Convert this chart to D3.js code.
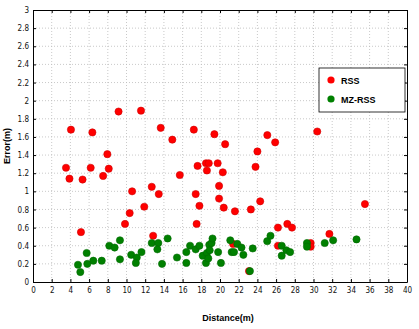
<!DOCTYPE html>
<html><head><meta charset="utf-8">
<script src="https://cdn.jsdelivr.net/npm/d3@7"></script>
<style>
body{margin:0;background:#fff;}
svg{display:block;}
.tick text{font-family:"Liberation Sans Narrow","Arial Narrow","DejaVu Sans Condensed",sans-serif;font-size:8px;fill:#111;}
</style></head>
<body><svg id="c" width="419" height="329"></svg>
<script>
const xTicks = d3.range(0, 41, 2);
const yTicks = [0,0.2,0.4,0.6,0.8,1,1.2,1.4,1.6,1.8,2,2.2,2.4,2.6,2.8,3];
const seriesNames = ["RSS","MZ-RSS"];
const rssDist = [3.53,3.9,4.06,5.13,5.3,6.17,6.35,7.5,7.95,8.1,9.15,9.84,10.34,10.6,11.55,11.9,12.7,12.85,13.45,13.66,14.9,15.7,17.2,17.4,17.5,17.6,17.8,18.5,18.6,18.8,19.4,19.75,19.9,19.9,20.3,20.4,20.55,21.4,21.6,23.1,23.3,23.8,24.0,24.3,25.06,25.9,26.2,26.2,27.2,27.7,29.7,29.7,30.4,31.7,35.5];
const rssErr  = [1.26,1.14,1.68,0.55,1.13,1.26,1.65,1.17,1.41,1.25,1.88,0.64,0.76,1.0,1.89,0.83,1.05,0.51,0.97,1.70,1.57,1.18,1.68,0.97,0.64,1.28,0.84,1.31,1.23,1.31,1.63,1.31,1.06,0.92,1.21,0.82,1.52,0.42,0.78,0.12,0.80,1.27,1.44,0.89,1.62,1.54,0.60,0.40,0.64,0.60,0.43,0.39,1.66,0.53,0.86];
const mzDist = [4.81,5.06,5.74,5.81,6.45,7.35,8.16,8.73,9.3,9.3,10.5,11.1,11.0,11.6,12.7,13.4,13.3,13.8,14.4,15.4,16.4,16.4,16.8,17.4,17.8,18.15,18.5,18.6,18.75,18.85,18.9,19.1,19.2,19.8,20.1,21.1,21.25,21.5,21.85,22.3,22.5,23.2,23.5,25.05,25.4,26.6,26.6,27.1,27.5,29.3,29.3,31.2,32.1,34.6];
const mzErr  = [0.19,0.11,0.32,0.20,0.235,0.235,0.40,0.38,0.46,0.25,0.30,0.27,0.21,0.33,0.43,0.43,0.36,0.20,0.48,0.27,0.21,0.33,0.40,0.36,0.40,0.29,0.21,0.32,0.26,0.41,0.35,0.43,0.48,0.33,0.21,0.46,0.33,0.33,0.42,0.38,0.30,0.12,0.37,0.45,0.51,0.40,0.29,0.35,0.33,0.43,0.39,0.43,0.46,0.47];

const svg = d3.select("#c");
const L=33, R=407, T=10, B=282;
const x = d3.scaleLinear().domain([0,40]).range([L,R]);
const y = d3.scaleLinear().domain([0,3]).range([B,T]);

// grid
const g = svg.append("g");
g.selectAll(".gx").data(xTicks.slice(1,-1)).join("line")
  .attr("x1",d=>x(d)).attr("x2",d=>x(d)).attr("y1",T).attr("y2",B)
  .attr("stroke","#bbb").attr("stroke-width",0.8).attr("stroke-dasharray","1,2");
g.selectAll(".gy").data(yTicks.slice(1,-1)).join("line")
  .attr("y1",d=>y(d)).attr("y2",d=>y(d)).attr("x1",L).attr("x2",R)
  .attr("stroke","#bbb").attr("stroke-width",0.8).attr("stroke-dasharray","1,2");

// axes
const xa = svg.append("g").attr("transform",`translate(0,${B})`)
  .call(d3.axisBottom(x).tickValues(xTicks).tickFormat(d3.format("d")).tickSizeInner(-3).tickSizeOuter(0).tickPadding(5));
const ya = svg.append("g").attr("transform",`translate(${L},0)`)
  .call(d3.axisLeft(y).tickValues(yTicks).tickFormat(d=>String(+d.toFixed(1))).tickSizeInner(-3).tickSizeOuter(0).tickPadding(4));
const xt = svg.append("g").attr("transform",`translate(0,${T})`)
  .call(d3.axisTop(x).tickValues(xTicks).tickFormat("").tickSizeInner(-3).tickSizeOuter(0));
const yr = svg.append("g").attr("transform",`translate(${R},0)`)
  .call(d3.axisRight(y).tickValues(yTicks).tickFormat("").tickSizeInner(-3).tickSizeOuter(0));
[xa,ya,xt,yr].forEach(a=>{a.selectAll("path").attr("stroke","#000").attr("stroke-width",1);a.selectAll("line").attr("stroke","#000");});

// points
const rss = rssDist.map((d,i)=>({d, e:rssErr[i]}));
const mz = mzDist.map((d,i)=>({d, e:mzErr[i]}));
svg.append("g").selectAll("circle").data(rss).join("circle")
  .attr("cx",p=>x(p.d)).attr("cy",p=>y(p.e)).attr("r",3.6)
  .attr("fill","#ff0000").attr("stroke","#d00000").attr("stroke-width",0.6);
svg.append("g").selectAll("circle").data(mz).join("circle")
  .attr("cx",p=>x(p.d)).attr("cy",p=>y(p.e)).attr("r",3.6)
  .attr("fill","#008000").attr("stroke","#006a00").attr("stroke-width",0.6);

// labels
svg.append("text").attr("x",228).attr("y",321).attr("text-anchor","middle")
  .attr("font-family","Liberation Sans, Arial, sans-serif").attr("font-weight","bold").attr("font-size",9)
  .text("Distance(m)");
svg.append("text").attr("transform","translate(10,146) rotate(-90)").attr("text-anchor","middle")
  .attr("font-family","Liberation Sans, Arial, sans-serif").attr("font-weight","bold").attr("font-size",9)
  .text("Error(m)");

// legend
const lg = svg.append("g");
lg.append("rect").attr("x",319).attr("y",68).attr("width",86).attr("height",44)
  .attr("fill","#fff").attr("stroke","#000").attr("stroke-width",0.8);
const colors=["#ff0000","#008000"];
seriesNames.forEach((n,i)=>{
  const cy = 80 + i*19;
  lg.append("circle").attr("cx",331).attr("cy",cy).attr("r",3.6).attr("fill",colors[i]);
  lg.append("text").attr("x",341).attr("y",cy+3.5)
    .attr("font-family","Liberation Sans, Arial, sans-serif").attr("font-weight","bold").attr("font-size",9)
    .text(n);
});
</script></body></html>
